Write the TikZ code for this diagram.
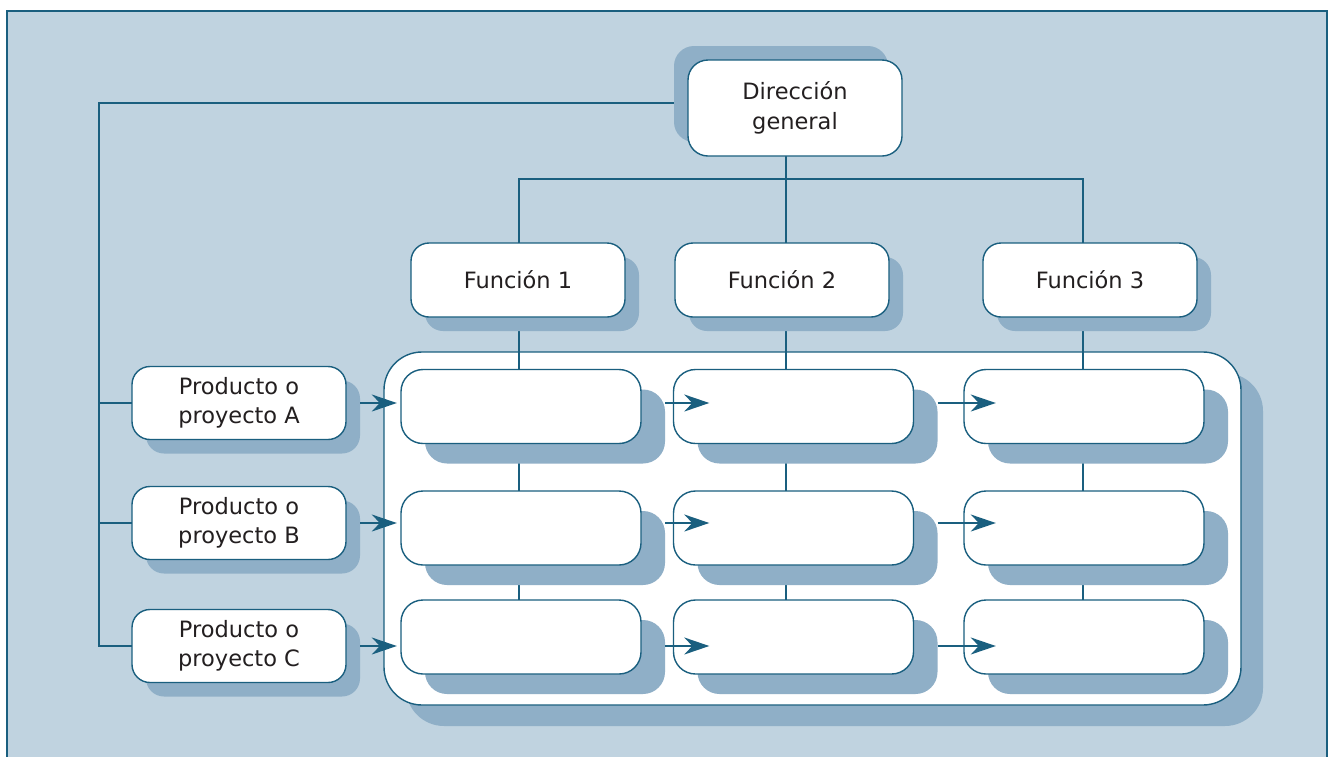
\documentclass[tikz,border=0pt]{standalone}
\usepackage{fontspec}
\setmainfont{DejaVu Sans}
\usetikzlibrary{arrows.meta}
\definecolor{bgblue}{HTML}{C0D3E0}
\definecolor{shadowblue}{HTML}{8FAFC7}
\definecolor{linkblue}{HTML}{1A5F7F}
\definecolor{inkgray}{HTML}{231F20}
\tikzset{
  box/.style={draw=linkblue, line width=1.4pt, fill=white, rounded corners=#1,
    align=center, text=inkgray, font=\fontsize{22.5}{29.5}\selectfont, inner sep=0pt},
  box/.default=18pt,
  shade/.style={fill=shadowblue, rounded corners=#1, inner sep=0pt},
  shade/.default=18pt,
  wire/.style={draw=linkblue, line width=1.5pt},
  flow/.style={wire, -{Stealth[length=25pt, width=17pt, inset=8pt]}},
}
\begin{document}
\begin{tikzpicture}[x=1pt, y=-1pt]
\useasboundingbox (0,0) rectangle (1334,756);
% frame and backdrop
\draw[draw=linkblue, line width=2.4pt, fill=bgblue] (7,11) rectangle (1327,790);

% guide coordinates for the connector lines
\coordinate (v1) at (519,0);
\coordinate (v2) at (786,0);
\coordinate (v3) at (1083,0);
\coordinate (lx) at (99,0);
\coordinate (bus) at (0,179);
\coordinate (topline) at (0,103);

% large container of the matrix
\node[shade=38pt, minimum width=857pt, minimum height=353pt] (boxs) at (834.5,549.5) {};
\node[box=38pt, minimum width=857pt, minimum height=353pt] (boxm) at (812.5,528.5) {};

% positions of the boxes (drawn later)
\path
  (795,108) node[minimum width=214pt, minimum height=96pt, inner sep=0pt] (dg) {}
  (518,280) node[minimum width=214pt, minimum height=74pt, inner sep=0pt] (f1) {}
  (782,280) node[minimum width=214pt, minimum height=74pt, inner sep=0pt] (f2) {}
  (1090,280) node[minimum width=214pt, minimum height=74pt, inner sep=0pt] (f3) {}
  (239,403) node[minimum width=214pt, minimum height=73pt, inner sep=0pt] (pA) {}
  (239,523) node[minimum width=214pt, minimum height=73pt, inner sep=0pt] (pB) {}
  (239,646) node[minimum width=214pt, minimum height=73pt, inner sep=0pt] (pC) {};
\foreach \c/\x in {1/521,2/793.5,3/1084}{
  \foreach \r/\y in {1/406.5,2/528,3/637}{
    \path (\x,\y) node[minimum width=240pt, minimum height=74pt, inner sep=0pt] (m\r\c) {};
  }
}

% hierarchy lines
\draw[wire] (v2 |- dg.south) -- (v2 |- f2.north);
\draw[wire] (v1 |- f1.north) -- (v1 |- bus) -- (v3 |- bus) -- (v3 |- f3.north);
\draw[wire] (v1 |- f1.south) -- (v1 |- m31.north);
\draw[wire] (v2 |- f2.south) -- (v2 |- m32.north);
\draw[wire] (v3 |- f3.south) -- (v3 |- m33.north);
% line from general management to the product rows
\draw[wire] (dg.west |- topline) -- (lx |- topline) -- (lx |- pC.west) -- (pC.west);
\draw[wire] (lx |- pA.west) -- (pA.west);
\draw[wire] (lx |- pB.west) -- (pB.west);

% shadows
\node[shade=20pt, minimum width=214pt, minimum height=96pt] (dgs) at (781,94) {};
\foreach \n/\x in {f1/518,f2/782,f3/1090}
  \node[shade, minimum width=214pt, minimum height=74pt] (\n s) at (\x+14,294) {};
\foreach \n/\y in {pA/403,pB/523,pC/646}
  \node[shade, minimum width=214pt, minimum height=73pt] (\n s) at (253,\y+14) {};
\foreach \c/\x in {1/521,2/793.5,3/1084}{
  \foreach \r/\y in {1/406.5,2/528,3/637}{
    \node[shade=22pt, minimum width=240pt, minimum height=74pt] (m\r\c s) at (\x+24,\y+20) {};
  }
}

% boxes
\node[box=20pt, minimum width=214pt, minimum height=96pt] at (dg) {Dirección\\general};
\node[box, minimum width=214pt, minimum height=74pt] at (f1) {Función 1};
\node[box, minimum width=214pt, minimum height=74pt] at (f2) {Función 2};
\node[box, minimum width=214pt, minimum height=74pt] at (f3) {Función 3};
\node[box, minimum width=214pt, minimum height=73pt] at (pA) {Producto o\\proyecto A};
\node[box, minimum width=214pt, minimum height=73pt] at (pB) {Producto o\\proyecto B};
\node[box, minimum width=214pt, minimum height=73pt] at (pC) {Producto o\\proyecto C};
\foreach \r in {1,2,3}{
  \foreach \c in {1,2,3}{
    \node[box=22pt, minimum width=240pt, minimum height=74pt] at (m\r\c) {};
  }
}

% flow arrows along each product row
\foreach \r/\p in {1/pA,2/pB,3/pC}{
  \draw[flow, shorten >=4pt] (\p s.east |- \p.east) -- (m\r1.west |- \p.east);
  \draw[flow, shorten >=-36pt] (m\r1s.east |- \p.east) -- (m\r2.west |- \p.east);
  \draw[flow, shorten >=-32pt] (m\r2s.east |- \p.east) -- (m\r3.west |- \p.east);
}
\end{tikzpicture}
\end{document}
